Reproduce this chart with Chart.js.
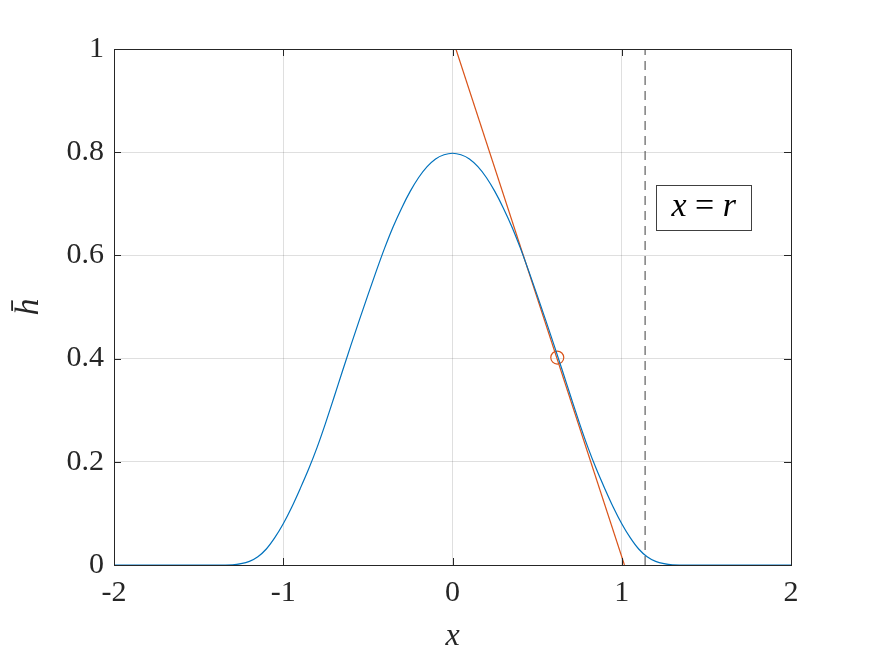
<!DOCTYPE html>
<html>
<head>
<meta charset="utf-8">
<script src="https://cdn.jsdelivr.net/npm/chart.js@4/dist/chart.umd.min.js"></script>
<style>
  html, body { margin: 0; padding: 0; background: #fff; }
  #wrap { width: 875px; height: 656px; position: relative; }
  .warm { position: absolute; left: 2px; top: 2px; color: #fff; font: 30px "Liberation Serif"; }
  #plot { position: relative; }
</style>
</head>
<body>
<div id="wrap">
  <span class="warm">0.8 -2 <i>x = r h</i></span>
  <canvas id="plot"></canvas>
</div>
<script>
// profile h-bar(x)
const xs = [-2, -1.5, -1.4, -1.3, -1.25, -1.2, -1.15, -1.1, -1.05, -1.0, -0.95, -0.9, -0.85, -0.8, -0.75,
            -0.7, -0.65, -0.6, -0.55, -0.5, -0.45, -0.4, -0.35, -0.3, -0.25, -0.2, -0.15, -0.1, -0.05, 0,
            0.05, 0.1, 0.15, 0.2, 0.25, 0.3, 0.35, 0.4, 0.45, 0.5, 0.55, 0.6, 0.65, 0.7,
            0.75, 0.8, 0.85, 0.9, 0.95, 1.0, 1.05, 1.1, 1.15, 1.2, 1.25, 1.3, 1.4, 1.5, 2];
const hbar = [0, 0, 0, 0.0005, 0.0025, 0.007, 0.016, 0.031, 0.053, 0.080, 0.112, 0.148, 0.186, 0.228, 0.275,
              0.325, 0.376, 0.426, 0.475, 0.523, 0.570, 0.615, 0.656, 0.692, 0.724, 0.751, 0.772, 0.787, 0.795, 0.798,
              0.795, 0.787, 0.772, 0.751, 0.724, 0.692, 0.656, 0.615, 0.570, 0.523, 0.475, 0.426, 0.376, 0.325,
              0.275, 0.228, 0.186, 0.148, 0.112, 0.080, 0.053, 0.031, 0.016, 0.007, 0.0025, 0.0005, 0, 0, 0];

// tangent line and the point it touches
const tangentX = [0.02, 1.016];
const tangentY = [1.0, 0];
const pointX = [0.619];
const pointY = [0.402];

// x = r marker
const rValue = 1.138;
const rLineY = [0, 1];

const xTicks = [-2, -1, 0, 1, 2];
const yTicks = [0, 0.2, 0.4, 0.6, 0.8, 1];
const boxLabel = { x: 1.484, y: 0.692 };

const axisColor = '#262626';
const fontFamily = '"Liberation Serif", serif';

function pairs(a, b) {
    return a.map((v, i) => ({ x: v, y: b[i] }));
}

// inward ticks on all four sides plus the box, MATLAB style
const boxPlugin = {
    id: 'boxAxes',
    afterDatasetsDraw(chart) {
        const ctx = chart.ctx;
        const a = chart.chartArea;
        const sx = chart.scales.x, sy = chart.scales.y;
        const len = 7;
        ctx.save();
        ctx.strokeStyle = axisColor;
        ctx.lineWidth = 1;
        ctx.beginPath();
        xTicks.forEach(t => {
            const px = Math.round(sx.getPixelForValue(t)) + 0.5;
            ctx.moveTo(px, a.bottom); ctx.lineTo(px, a.bottom - len);
            ctx.moveTo(px, a.top); ctx.lineTo(px, a.top + len);
        });
        yTicks.forEach(t => {
            const py = Math.round(sy.getPixelForValue(t)) + 0.5;
            ctx.moveTo(a.left, py); ctx.lineTo(a.left + len, py);
            ctx.moveTo(a.right, py); ctx.lineTo(a.right - len, py);
        });
        ctx.stroke();
        ctx.strokeRect(Math.round(a.left) + 0.5, Math.round(a.top) + 0.5,
                       Math.round(a.right - a.left), Math.round(a.bottom - a.top));

        // text box "x = r"
        const cx = sx.getPixelForValue(boxLabel.x);
        const cy = sy.getPixelForValue(boxLabel.y);
        const parts = [['italic ', 'x'], ['', ' = '], ['italic ', 'r']];
        let w = 0;
        parts.forEach(p => { ctx.font = p[0] + '34px ' + fontFamily; w += ctx.measureText(p[1]).width; });
        const bw = 95, bh = 45;
        ctx.fillStyle = '#fff';
        ctx.fillRect(cx - bw / 2, cy - bh / 2, bw, bh);
        ctx.strokeStyle = '#404040';
        ctx.strokeRect(Math.round(cx - bw / 2) + 0.5, Math.round(cy - bh / 2) + 0.5, bw, bh);
        ctx.fillStyle = '#000';
        ctx.textBaseline = 'alphabetic';
        let x0 = cx - w / 2;
        parts.forEach(p => {
            ctx.font = p[0] + '34px ' + fontFamily;
            ctx.fillText(p[1], x0, cy + 8);
            x0 += ctx.measureText(p[1]).width;
        });
        ctx.restore();
    }
};

function drawChart() {
    new Chart(document.getElementById('plot'), {
        type: 'scatter',
        data: {
            datasets: [
                {
                    label: 'hbar',
                    data: pairs(xs, hbar),
                    showLine: true,
                    borderColor: '#0072BD',
                    borderWidth: 1.2,
                    pointRadius: 0,
                    cubicInterpolationMode: 'monotone'
                },
                {
                    label: 'tangent',
                    data: pairs(tangentX, tangentY),
                    showLine: true,
                    borderColor: '#D95319',
                    borderWidth: 1.2,
                    pointRadius: 0
                },
                {
                    label: 'point',
                    data: pairs(pointX, pointY),
                    showLine: false,
                    borderColor: '#D95319',
                    backgroundColor: 'rgba(0,0,0,0)',
                    borderWidth: 1.2,
                    pointRadius: 6.5
                },
                {
                    label: 'x = r',
                    data: pairs([rValue, rValue], rLineY),
                    showLine: true,
                    borderColor: '#5e5e5e',
                    borderWidth: 1.2,
                    borderDash: [9, 6],
                    pointRadius: 0
                }
            ]
        },
        options: {
            responsive: true,
            maintainAspectRatio: false,
            animation: false,
            layout: { padding: { top: 49, right: 84, left: 0, bottom: 0 } },
            plugins: {
                legend: { display: false },
                tooltip: { enabled: false }
            },
            scales: {
                x: {
                    type: 'linear',
                    min: -2,
                    max: 2,
                    afterBuildTicks: s => { s.ticks = xTicks.map(v => ({ value: v })); },
                    afterFit: s => { s.height = 91; },
                    border: { display: false },
                    grid: { color: 'rgba(38,38,38,0.15)', drawTicks: false },
                    ticks: {
                        padding: 10,
                        color: axisColor,
                        font: { family: fontFamily, size: 30 },
                        callback: v => String(v)
                    },
                    title: {
                        display: true,
                        text: 'x',
                        color: axisColor,
                        font: { family: fontFamily, size: 32, style: 'italic' },
                        padding: { top: 0, bottom: 0 }
                    }
                },
                y: {
                    type: 'linear',
                    min: 0,
                    max: 1,
                    afterBuildTicks: s => { s.ticks = yTicks.map(v => ({ value: v })); },
                    afterFit: s => { s.width = 114; },
                    border: { display: false },
                    grid: { color: 'rgba(38,38,38,0.15)', drawTicks: false },
                    ticks: {
                        padding: 10,
                        color: axisColor,
                        font: { family: fontFamily, size: 30 },
                        callback: v => String(v)
                    },
                    title: {
                        display: true,
                        text: 'h\u0304',
                        color: axisColor,
                        font: { family: fontFamily, size: 34, style: 'italic' },
                        padding: { top: 9, bottom: 0 }
                    }
                }
            }
        },
        plugins: [boxPlugin]
    });
}

window.addEventListener('load', () => {
    Promise.all([
        document.fonts.load('30px "Liberation Serif"'),
        document.fonts.load('italic 30px "Liberation Serif"')
    ]).then(drawChart, drawChart);
});
</script>
</body>
</html>
